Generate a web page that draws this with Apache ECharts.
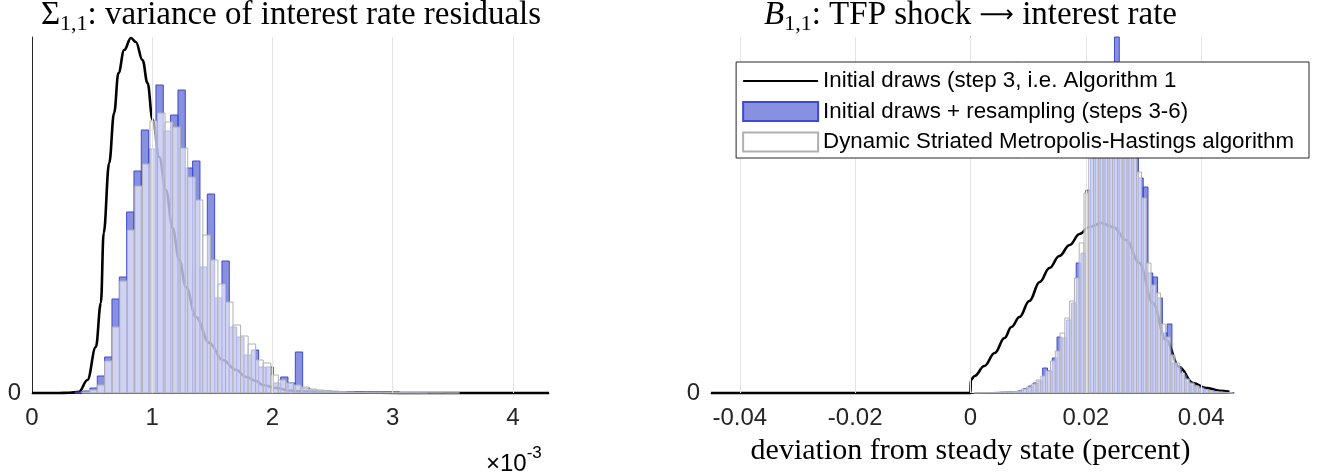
<!DOCTYPE html>
<html>
<head>
<meta charset="utf-8">
<script src="https://cdn.jsdelivr.net/npm/echarts@6/dist/echarts.min.js"></script>
<style>
  html, body { margin: 0; padding: 0; background: #fff; }
  #chart { width: 1318px; height: 476px; }
</style>
</head>
<body>
<div id="chart"></div>
<script>
// ---- Sigma_{1,1} panel (x in units of 1e-3) ----
const sigmaTicks = [0, 1, 2, 3, 4];
const sigmaRange = [0, 4.3];
const sigmaYMax = 1.78;

// initial draws + resampling histogram: first bin edge and bin width, then bar heights
const sigmaResampStart = 0.360;
const sigmaResampWidth = 0.061;
const sigmaResamp = [0.005, 0.01, 0.025, 0.085, 0.18, 0.47, 0.58, 0.905, 1.11, 1.315, 1.22, 1.54, 1.31, 1.39,
  1.515, 1.125, 1.16, 0.63, 0.995, 0.475, 0.66, 0.33, 0.28, 0.19, 0.215, 0.13, 0.13, 0.05, 0.08, 0.05, 0.205,
  0.025, 0.015, 0.01, 0.0075, 0.005, 0.005, 0.003, 0.0025, 0.002, 0.0015, 0.0015, 0.001, 0.001, 0.001, 0.001,
  0.0005, 0.0005];

// DSMH histogram
const sigmaDsmhStart = 0.416;
const sigmaDsmhWidth = 0.0628;
const sigmaDsmh = [0.005, 0.015, 0.04, 0.16, 0.33, 0.56, 0.815, 1.035, 1.145, 1.36, 1.40, 1.355, 1.33, 1.225,
  1.08, 0.965, 0.79, 0.665, 0.545, 0.455, 0.34, 0.285, 0.245, 0.165, 0.15, 0.09, 0.065, 0.05, 0.04, 0.03, 0.02,
  0.015, 0.0125, 0.01, 0.0075, 0.006, 0.005, 0.005, 0.004, 0.003, 0.0025, 0.002, 0.002, 0.0015, 0.0015, 0.001,
  0.001, 0.001, 0.0005, 0.0005];

// density of the initial draws: [x, density]
const sigmaInitial = [
  [0, 0], [0.225, 0], [0.308, 0.0015], [0.392, 0.0065], [0.461, 0.065], [0.531, 0.23], [0.573, 0.45],
  [0.596, 0.80], [0.642, 1.15], [0.683, 1.40], [0.719, 1.60], [0.767, 1.715], [0.823, 1.775], [0.864, 1.755],
  [0.919, 1.665], [0.961, 1.55], [1.003, 1.365], [1.058, 1.18], [1.114, 1.015], [1.169, 0.825], [1.225, 0.665],
  [1.281, 0.53], [1.364, 0.38], [1.475, 0.25], [1.586, 0.165], [1.698, 0.115], [1.781, 0.08], [1.864, 0.06],
  [1.919, 0.04], [2.031, 0.025], [2.142, 0.0125], [2.25, 0.0075], [2.475, 0.004], [2.725, 0.002],
  [3.058, 0.00075], [3.583, 0], [4.3, 0]
];

// ---- B_{1,1} panel (deviation from steady state, percent) ----
const bTicks = [-0.04, -0.02, 0, 0.02, 0.04];
const bRange = [-0.045, 0.045];
const bYMax = 35.6;

const bResampStart = 0.0009;
const bResampWidth = 0.00083;
const bResamp = [0.02, 0.03, 0.04, 0.05, 0.06, 0.08, 0.1, 0.12, 0.15, 0.25, 0.45, 0.7, 1.0, 1.2, 2.5, 2.2, 3.5,
  5.6, 5.5, 7.3, 9.0, 13.0, 14.0, 20.3, 25.0, 28.0, 30.0, 29.0, 33.0, 35.6, 30.0, 29.0, 27.0, 25.0, 21.5, 20.6,
  12.0, 11.6, 9.5, 6.0, 6.9, 3.0, 2.6, 1.8, 1.1, 0.8, 0.6, 0.47, 0.33, 0.23, 0.15, 0.1, 0.05, 0.03];

const bDsmhStart = 0.00059;
const bDsmhWidth = 0.00083;
const bDsmh = [0.02, 0.03, 0.04, 0.05, 0.06, 0.08, 0.1, 0.12, 0.15, 0.2, 0.4, 0.6, 0.9, 1.3, 1.7, 2.2, 3.2, 4.2,
  6.0, 7.5, 9.2, 11.5, 15.0, 20.0, 24.5, 26.5, 28.5, 30.0, 31.0, 31.5, 31.0, 30.0, 28.5, 26.5, 22.1, 19.5, 13.0,
  10.8, 10.0, 6.9, 5.6, 3.8, 3.0, 2.0, 1.4, 1.0, 0.7, 0.5, 0.35, 0.25, 0.15, 0.1, 0.06, 0.03];

const bInitial = [
  [-0.045, 0], [0, 0], [0.00005, 1.3], [0.0007, 1.7], [0.0024, 2.7], [0.0042, 4.0], [0.0059, 5.5],
  [0.0071, 6.6], [0.0085, 7.6], [0.0102, 9.2], [0.0120, 11.1], [0.0137, 12.5], [0.0154, 13.7], [0.0172, 14.8],
  [0.0189, 15.9], [0.0206, 16.6], [0.0227, 17.0], [0.0247, 16.6], [0.0270, 15.3], [0.0293, 13.0],
  [0.0316, 9.0], [0.0339, 5.3], [0.0362, 2.6], [0.0386, 1.0], [0.0409, 0.5], [0.0432, 0.23], [0.0449, 0.13]
];

const NAME_INIT = 'Initial draws (step 3, i.e. Algorithm 1';
const NAME_RESAMP = 'Initial draws + resampling (steps 3-6)';
const NAME_DSMH = 'Dynamic Striated Metropolis-Hastings algorithm';

const BLUE_FILL = 'rgba(57,70,203,0.6)';
const BLUE_EDGE = 'rgb(62,74,210)';
const WHITE_FILL = 'rgba(255,255,255,0.6)';
const WHITE_EDGE = 'rgb(176,176,176)';
const AXIS_COLOR = '#262626';
const SANS = '"Liberation Sans", Arial, sans-serif';
const SERIF = '"Liberation Serif", "Times New Roman", serif';

// legend icon for the density line: a 2px bar, with hair-thin corner points fixing the icon box
const LINE_ICON = 'path://M0,0H0.01V0.01H0Z M0,8.5H75V10.5H0Z M74.99,18.99H75V19H74.99Z';

// histogram drawn as rectangles between bin edges, through the axis scales
function histogram(name, idx, start, width, heights, fill, stroke, z) {
  const data = heights.map((h, i) => [start + i * width, start + (i + 1) * width, h]);
  return {
    type: 'custom', name, xAxisIndex: idx, yAxisIndex: idx, z,
    data, encode: { x: [0, 1], y: 2 },
    itemStyle: { color: fill, borderColor: stroke, borderWidth: 1 },
    renderItem(params, api) {
      const p0 = api.coord([api.value(0), 0]);
      const p1 = api.coord([api.value(1), api.value(2)]);
      return {
        type: 'rect',
        shape: { x: p0[0], y: p1[1], width: p1[0] - p0[0], height: p0[1] - p1[1] },
        style: { fill, stroke, lineWidth: 1 }
      };
    }
  };
}

function densityLine(idx, data, ticks) {
  return {
    type: 'line', name: NAME_INIT, xAxisIndex: idx, yAxisIndex: idx, z: 1,
    data, symbol: 'none', showSymbol: false, clip: false,
    smooth: 0.4, smoothMonotone: 'x',
    lineStyle: { color: '#000', width: 2.6 },
    itemStyle: { color: '#000' },
    markLine: {
      silent: true, symbol: 'none', label: { show: false },
      lineStyle: { color: '#e3e3e3', width: 1, type: 'solid' },
      data: ticks.filter((t, i) => idx === 1 || i > 0).map(t => ({ xAxis: t }))
    }
  };
}

function xAxisFor(idx, range, ticks, fmt) {
  return {
    type: 'value', gridIndex: idx, min: range[0], max: range[1],
    axisLine: { show: true, onZero: false, lineStyle: { color: AXIS_COLOR, width: 1 } },
    axisTick: { show: true, inside: true, length: 6, customValues: ticks, lineStyle: { color: AXIS_COLOR } },
    axisLabel: {
      customValues: ticks, margin: 13, fontFamily: SANS, fontSize: 24, color: AXIS_COLOR,
      formatter: v => (ticks.some(t => Math.abs(t - v) < 1e-9) ? fmt(v) : '')
    },
    splitLine: { show: false }
  };
}

function yAxisFor(idx, max) {
  return {
    type: 'value', gridIndex: idx, min: 0, max,
    axisLine: { show: true, lineStyle: { color: AXIS_COLOR, width: 1 } },
    axisTick: { show: false },
    axisLabel: {
      customValues: [0], margin: 11, fontFamily: SANS, fontSize: 24, color: AXIS_COLOR,
      formatter: v => (v === 0 ? '0' : '')
    },
    splitLine: { show: false }
  };
}

const chart = echarts.init(document.getElementById('chart'), null, { renderer: 'canvas' });

const option = {
  animation: false,
  backgroundColor: '#fff',
  grid: [
    { left: 32, right: 769, top: 37, bottom: 83 },
    { left: 711, right: 88, top: 37, bottom: 83 }
  ],
  xAxis: [
    xAxisFor(0, sigmaRange, sigmaTicks, v => String(Math.round(v))),
    Object.assign(xAxisFor(1, bRange, bTicks, v => (v === 0 ? '0' : v.toFixed(2))), {
      name: 'deviation from steady state (percent)',
      nameLocation: 'middle', nameGap: 43,
      nameTextStyle: { fontFamily: SERIF, fontSize: 30, color: '#000' }
    })
  ],
  yAxis: [yAxisFor(0, sigmaYMax), yAxisFor(1, bYMax)],
  legend: {
    orient: 'vertical', right: 9, top: 62, z: 10,
    backgroundColor: '#fff', borderColor: AXIS_COLOR, borderWidth: 1, borderRadius: 0,
    padding: [8, 15, 5, 6], itemWidth: 75, itemHeight: 19, itemGap: 8.5,
    textStyle: { fontFamily: SANS, fontSize: 22.3, color: '#000' },
    data: [
      { name: NAME_INIT, icon: LINE_ICON, itemStyle: { color: '#000', borderWidth: 0 } },
      { name: NAME_RESAMP, icon: 'rect' },
      { name: NAME_DSMH, icon: 'rect' }
    ]
  },
  graphic: [
    {
      type: 'text', x: 291, y: -4, z: 20,
      style: {
        text: '{m|Σ}{s|1,1}{m|: variance of interest rate residuals}',
        align: 'center', verticalAlign: 'top',
        rich: {
          m: { fontFamily: SERIF, fontSize: 33, color: '#000' },
          s: { fontFamily: SERIF, fontSize: 22, color: '#000', padding: [17, 0, 0, 0] }
        }
      }
    },
    {
      type: 'text', x: 970.5, y: -4, z: 20,
      style: {
        text: '{i|B}{s|1,1}{m|: TFP shock }{a|⟶}{m| interest rate}',
        align: 'center', verticalAlign: 'top',
        rich: {
          i: { fontFamily: SERIF, fontSize: 33, fontStyle: 'italic', color: '#000' },
          m: { fontFamily: SERIF, fontSize: 33, color: '#000' },
          a: { fontFamily: '"DejaVu Sans", sans-serif', fontSize: 24, color: '#000' },
          s: { fontFamily: SERIF, fontSize: 22, color: '#000', padding: [17, 0, 0, 0] }
        }
      }
    },
    {
      type: 'text', x: 486, y: 441, z: 20,
      style: {
        text: '{a|×10}{b|-3}',
        rich: {
          a: { fontFamily: SANS, fontSize: 24, color: AXIS_COLOR, padding: [11, 0, 0, 0] },
          b: { fontFamily: SANS, fontSize: 17, color: AXIS_COLOR, padding: [0, 0, 11, 0] }
        }
      }
    }
  ],
  series: [
    densityLine(0, sigmaInitial, sigmaTicks),
    histogram(NAME_RESAMP, 0, sigmaResampStart, sigmaResampWidth, sigmaResamp, BLUE_FILL, BLUE_EDGE, 2),
    histogram(NAME_DSMH, 0, sigmaDsmhStart, sigmaDsmhWidth, sigmaDsmh, WHITE_FILL, WHITE_EDGE, 3),
    densityLine(1, bInitial, bTicks),
    histogram(NAME_RESAMP, 1, bResampStart, bResampWidth, bResamp, BLUE_FILL, BLUE_EDGE, 2),
    histogram(NAME_DSMH, 1, bDsmhStart, bDsmhWidth, bDsmh, WHITE_FILL, WHITE_EDGE, 3)
  ]
};

chart.setOption(option);
</script>
</body>
</html>
